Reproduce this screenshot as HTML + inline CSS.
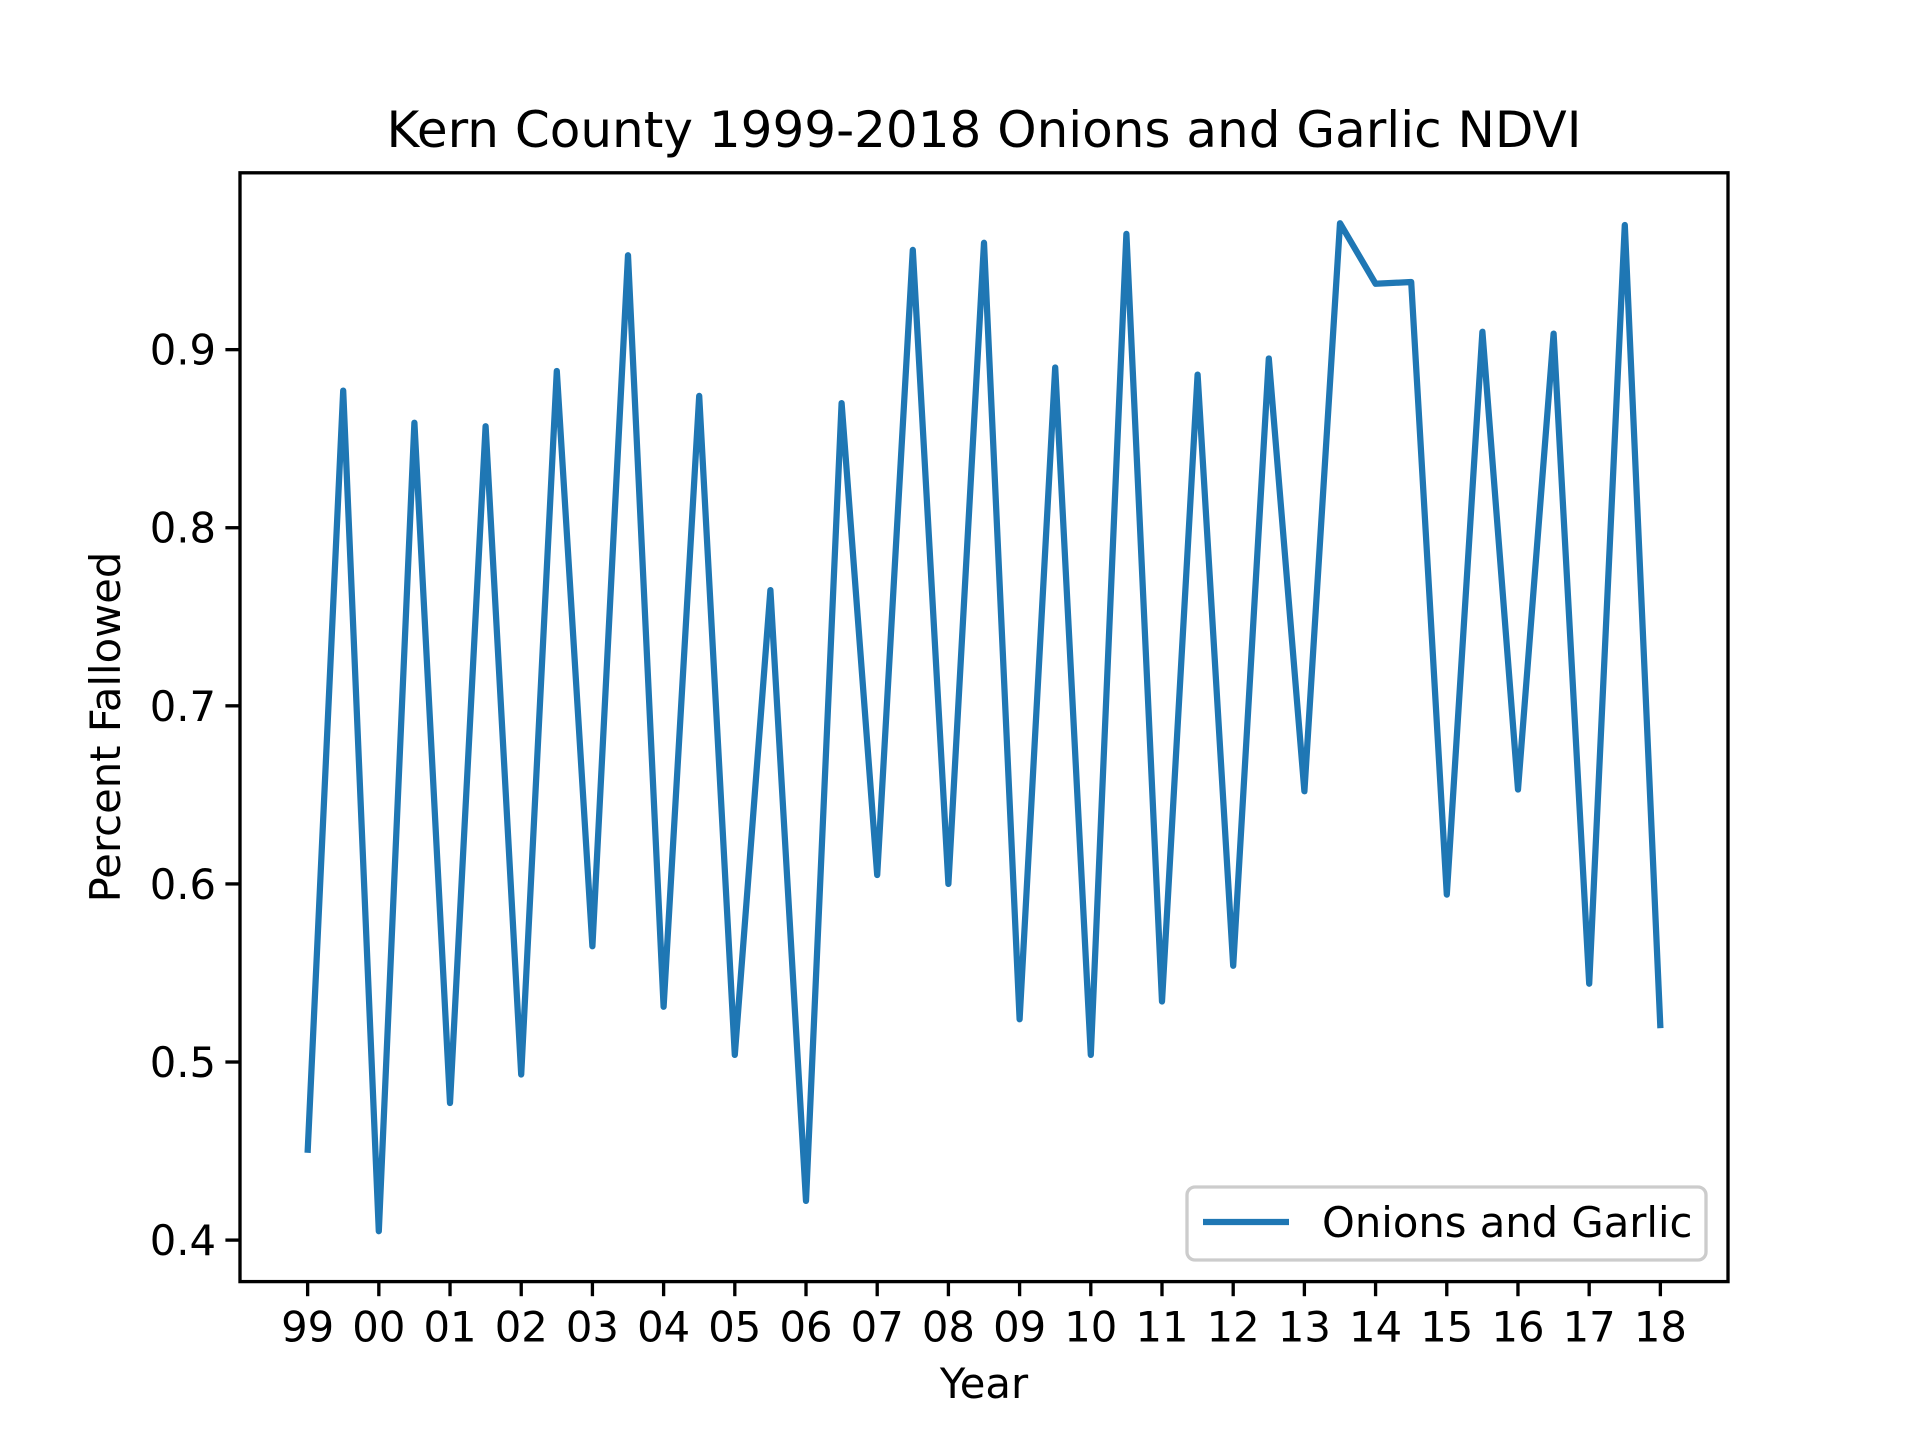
<!DOCTYPE html>
<html><head><meta charset="utf-8"><style>
html,body{margin:0;padding:0;background:#fff;}
svg{display:block;font-family:"DejaVu Sans","Liberation Sans",sans-serif;}
</style></head><body>
<svg id="chart" width="1920" height="1440" viewBox="0 0 1920 1440">
<rect width="1920" height="1440" fill="#fff"/>
<text x="984" y="147" text-anchor="middle" font-size="50" fill="#000">Kern County 1999-2018 Onions and Garlic NDVI</text>
<g id="grid"></g>
<path id="series" fill="none" stroke="#1f77b4" stroke-width="6.25" stroke-linejoin="round"/>
<rect x="240" y="172.8" width="1488" height="1108.8" fill="none" stroke="#000" stroke-width="3.33"/>
<g id="ticks"></g>
<text x="984" y="1398" text-anchor="middle" font-size="41.7" fill="#000">Year</text>
<text transform="translate(120,727) rotate(-90)" text-anchor="middle" font-size="41.7" fill="#000">Percent Fallowed</text>
<g>
<rect x="1187" y="1187" width="519" height="73" rx="8" fill="#fff" fill-opacity="0.8" stroke="#ccc" stroke-width="3.33"/>
<line x1="1203" y1="1222" x2="1289" y2="1222" stroke="#1f77b4" stroke-width="6.25"/>
<text x="1322" y="1237" font-size="41.7" fill="#000">Onions and Garlic</text>
</g>
</svg>
<script>
const values = [0.449,0.877,0.405,0.859,0.477,0.857,0.493,0.888,0.565,0.953,0.531,0.874,0.504,0.765,0.422,0.870,0.605,0.956,0.600,0.960,0.524,0.890,0.504,0.965,0.534,0.886,0.554,0.895,0.652,0.971,0.937,0.938,0.594,0.910,0.653,0.909,0.544,0.970,0.519];
const xTickLabels = ["99","00","01","02","03","04","05","06","07","08","09","10","11","12","13","14","15","16","17","18"];
const yTicks = [0.4,0.5,0.6,0.7,0.8,0.9];

const L=240,R=1728,T=172.8,B=1281.6;
const n=values.length;
const xm=(n-1)*0.05;
const xs=i=>L+(i+xm)/((n-1)+2*xm)*(R-L);
const vmin=Math.min(...values),vmax=Math.max(...values),ym=(vmax-vmin)*0.05;
const y0=vmin-ym,y1=vmax+ym;
const ys=v=>B-(v-y0)/(y1-y0)*(B-T);
const NS="http://www.w3.org/2000/svg";
document.getElementById('series').setAttribute('d',values.map((v,i)=>(i?'L':'M')+xs(i).toFixed(1)+','+ys(v).toFixed(1)).join(''));
const tg=document.getElementById('ticks');
xTickLabels.forEach((lab,k)=>{
  const x=xs(k*2);
  const l=document.createElementNS(NS,'line');
  l.setAttribute('x1',x);l.setAttribute('x2',x);l.setAttribute('y1',B);l.setAttribute('y2',B+14.6);
  l.setAttribute('stroke','#000');l.setAttribute('stroke-width','3.33');
  
  
  tg.appendChild(l);
  const t=document.createElementNS(NS,'text');
  t.setAttribute('x',x);t.setAttribute('y',B+60);t.setAttribute('text-anchor','middle');t.setAttribute('font-size','41.7');
  t.textContent=lab;
  
  
  tg.appendChild(t);
});
yTicks.forEach(v=>{
  const y=ys(v);
  const l=document.createElementNS(NS,'line');
  l.setAttribute('x1',L-14.6);l.setAttribute('x2',L);l.setAttribute('y1',y);l.setAttribute('y2',y);
  l.setAttribute('stroke','#000');l.setAttribute('stroke-width','3.33');
  
  
  tg.appendChild(l);
  const t=document.createElementNS(NS,'text');
  t.setAttribute('x',L-24);t.setAttribute('y',y+15);t.setAttribute('text-anchor','end');t.setAttribute('font-size','41.7');
  t.textContent=v.toFixed(1);
  
  
  tg.appendChild(t);
});
</script>
</body></html>
